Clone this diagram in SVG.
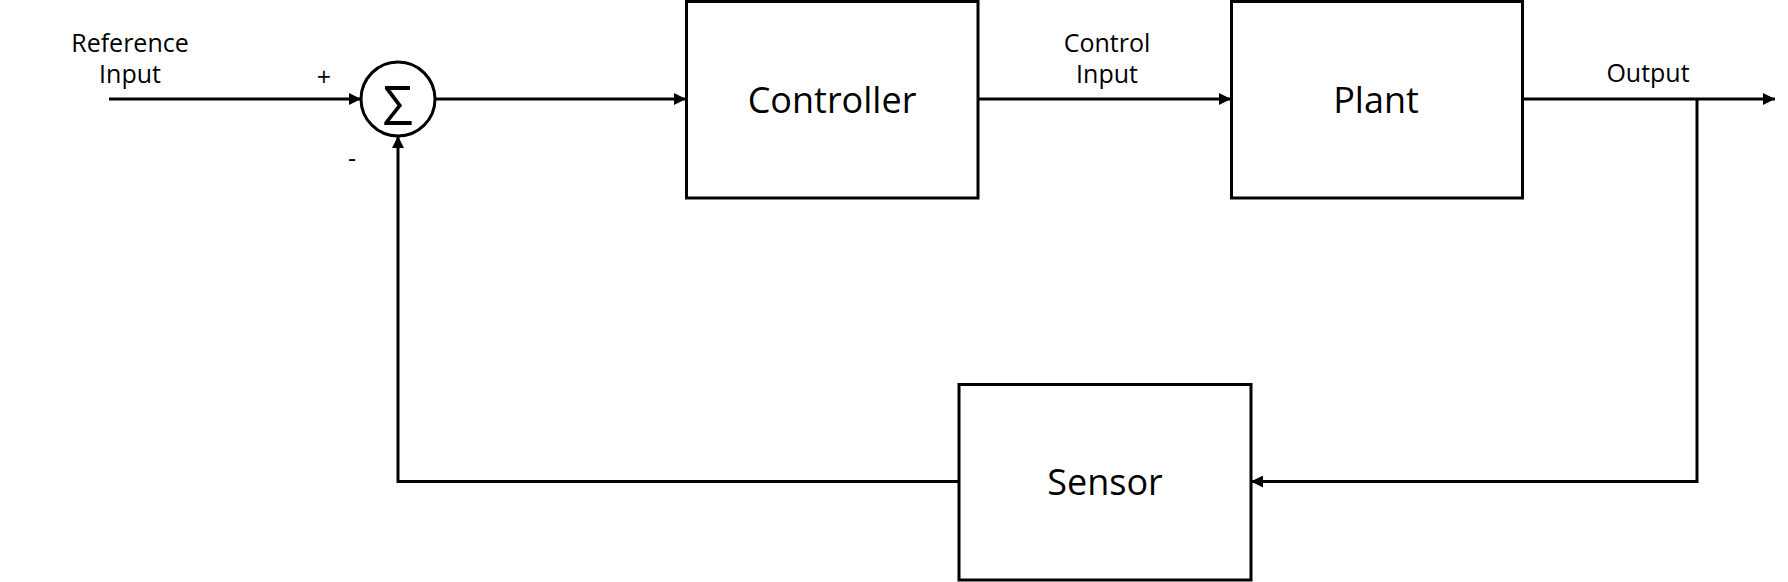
<svg xmlns="http://www.w3.org/2000/svg" width="1788" height="582" viewBox="0 0 1788 582">
  <style>
    .box { fill: #ffffff; stroke: #000000; stroke-width: 3; }
    .wire { fill: none; stroke: #000000; stroke-width: 3; }
    .big { font-family: "Open Sans", "Liberation Sans", sans-serif; font-size: 36px; fill: #000000; text-anchor: middle; }
    .small { font-family: "Open Sans", "Liberation Sans", sans-serif; font-size: 25px; fill: #000000; text-anchor: middle; }
    .sigma { font-family: "Noto Sans CJK KR", "DejaVu Sans", sans-serif; font-size: 54px; fill: #000000; text-anchor: middle; }
  </style>
  <defs>
    <marker id="arrow" markerUnits="userSpaceOnUse" markerWidth="13" markerHeight="12" refX="12" refY="6" orient="auto">
      <path d="M0,0 L12,6 L0,12 z" fill="#000000"/>
    </marker>
  </defs>
  <rect width="1788" height="582" fill="#ffffff"/>

  <g id="connectors">
    <path class="wire" d="M109,99 H361" marker-end="url(#arrow)"/>
    <path class="wire" d="M435,99 H686" marker-end="url(#arrow)"/>
    <path class="wire" d="M978,99 H1231" marker-end="url(#arrow)"/>
    <path class="wire" d="M1522,99 H1775" marker-end="url(#arrow)"/>
    <path class="wire" d="M1697,99 V481.5 H1251" marker-end="url(#arrow)"/>
    <path class="wire" d="M959,481.5 H398 V136" marker-end="url(#arrow)"/>
    <text class="small" x="130" y="52">Reference</text>
    <text class="small" x="130" y="83">Input</text>
    <text class="small" x="324" y="86">+</text>
    <text class="small" x="352" y="167">-</text>
    <text class="small" x="1107" y="52">Control</text>
    <text class="small" x="1107" y="83">Input</text>
    <text class="small" x="1648" y="82">Output</text>
  </g>

  <g id="sum">
    <circle class="box" cx="398" cy="99" r="37"/>
    <text class="sigma" transform="translate(398,125) scale(0.85,1)" x="0" y="0">∑</text>
  </g>

  <g id="controller">
    <rect class="box" x="686.5" y="1.5" width="291.5" height="196.5"/>
    <text class="big" x="832" y="113">Controller</text>
  </g>

  <g id="plant">
    <rect class="box" x="1231.5" y="1.5" width="291" height="196.5"/>
    <text class="big" x="1376" y="113">Plant</text>
  </g>

  <g id="sensor">
    <rect class="box" x="959" y="384.5" width="292" height="195.5"/>
    <text class="big" x="1105" y="495">Sensor</text>
  </g>
</svg>
